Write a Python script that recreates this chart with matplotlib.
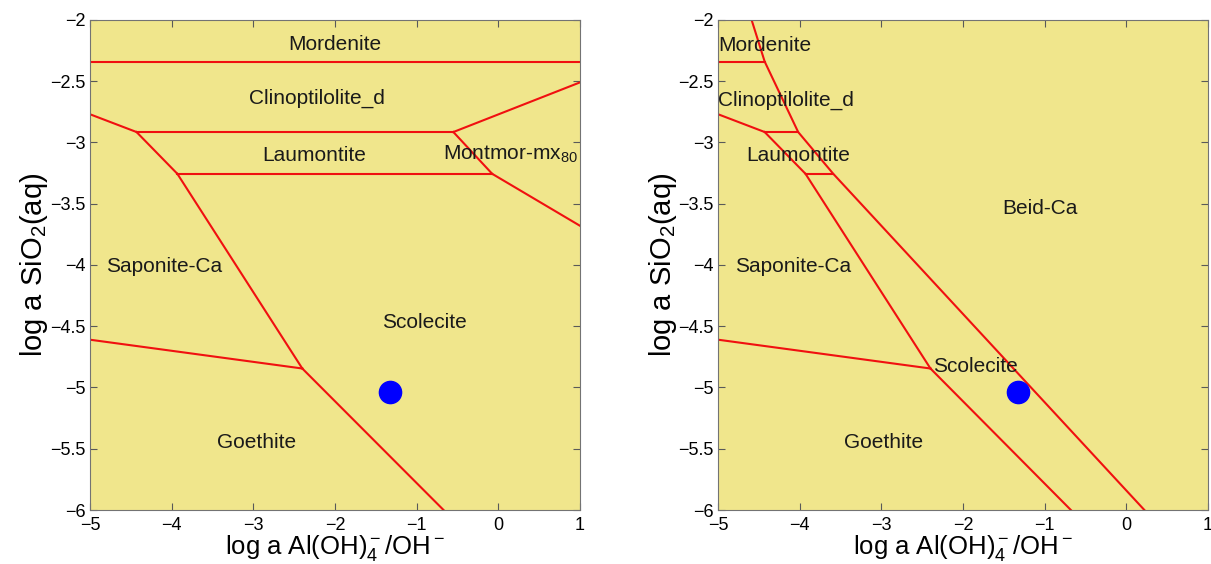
import numpy as np
import matplotlib.pyplot as plt
from matplotlib.ticker import FuncFormatter

plt.rcParams['font.family'] = ['Liberation Sans', 'DejaVu Sans']
plt.rcParams['mathtext.fontset'] = 'custom'
plt.rcParams['mathtext.rm'] = 'Liberation Sans'
plt.rcParams['mathtext.it'] = 'Liberation Sans'
plt.rcParams['mathtext.default'] = 'regular'

# phase boundaries (log a Al(OH)4-/OH-, log a SiO2)
mord_clino_x, mord_clino_y = [-5, 1], [-2.34, -2.34]
sap_clino_x, sap_clino_y = [-5, -4.43], [-2.77, -2.915]
clino_laum_x, clino_laum_y = [-4.43, -0.55], [-2.915, -2.915]
clino_mont_x, clino_mont_y = [-0.55, 1], [-2.915, -2.51]
laum_mont_x, laum_mont_y = [-0.55, -0.075], [-2.915, -3.256]
sap_laum_x, sap_laum_y = [-4.43, -3.93], [-2.915, -3.256]
laum_scol_x, laum_scol_y = [-3.93, -0.075], [-3.256, -3.256]
scol_mont_x, scol_mont_y = [-0.075, 1], [-3.256, -3.68]
sap_scol_x, sap_scol_y = [-3.93, -2.40], [-3.256, -4.845]
sap_goe_x, sap_goe_y = [-5, -2.40], [-4.61, -4.845]
goe_scol_x, goe_scol_y = [-2.40, -0.67], [-4.845, -6]

# second diagram, with beidellite
mord_clino2_x, mord_clino2_y = [-5, -4.43], [-2.34, -2.34]
clino_laum2_x, clino_laum2_y = [-4.43, -4.02], [-2.915, -2.915]
laum_scol2_x, laum_scol2_y = [-3.93, -3.59], [-3.256, -3.256]
beid_x = [-4.59, -4.43, -4.02, -3.59, 0.22]
beid_y = [-2.0, -2.34, -2.915, -3.256, -6.0]
goe_scol2_x, goe_scol2_y = [-2.40, -0.68], [-4.845, -6]

sample_x, sample_y = -1.33, -5.037

left_lines = [(mord_clino_x, mord_clino_y), (sap_clino_x, sap_clino_y),
              (clino_laum_x, clino_laum_y), (clino_mont_x, clino_mont_y),
              (laum_mont_x, laum_mont_y), (sap_laum_x, sap_laum_y),
              (laum_scol_x, laum_scol_y), (scol_mont_x, scol_mont_y),
              (sap_scol_x, sap_scol_y), (sap_goe_x, sap_goe_y),
              (goe_scol_x, goe_scol_y)]
right_lines = [(mord_clino2_x, mord_clino2_y), (sap_clino_x, sap_clino_y),
               (clino_laum2_x, clino_laum2_y), (sap_laum_x, sap_laum_y),
               (laum_scol2_x, laum_scol2_y), (beid_x, beid_y),
               (sap_scol_x, sap_scol_y), (sap_goe_x, sap_goe_y),
               (goe_scol2_x, goe_scol2_y)]

left_labels = [('Mordenite', -2.0, -2.2, 'center'),
               ('Clinoptilolite_d', -2.22, -2.64, 'center'),
               ('Laumontite', -2.26, -3.11, 'center'),
               ('Montmor-mx$_{80}$', -0.68, -3.1, 'left'),
               ('Saponite-Ca', -4.09, -4.01, 'center'),
               ('Scolecite', -0.9, -4.47, 'center'),
               ('Goethite', -2.96, -5.45, 'center')]
right_labels = [('Mordenite', -5.0, -2.21, 'left'),
                ('Clinoptilolite_d', -5.0, -2.66, 'left'),
                ('Laumontite', -4.02, -3.11, 'center'),
                ('Beid-Ca', -1.06, -3.54, 'center'),
                ('Saponite-Ca', -4.08, -4.01, 'center'),
                ('Scolecite', -2.37, -4.83, 'left'),
                ('Goethite', -2.97, -5.45, 'center')]

fig = plt.figure(figsize=(12.11, 5.64), dpi=100)
ax1 = fig.add_axes([0.0743, 0.0957, 0.4046, 0.869])
ax2 = fig.add_axes([0.593, 0.0957, 0.4046, 0.869])

fmt = FuncFormatter(lambda v, p: ('%g' % v).replace('-', '\u2212'))

for ax, lines, labels in [(ax1, left_lines, left_labels), (ax2, right_lines, right_labels)]:
    ax.set_facecolor('#F0E68C')
    for xs, ys in lines:
        ax.plot(xs, ys, color='#F01010', lw=1.5)
    for txt, x, y, ha in labels:
        ax.text(x, y, txt, ha=ha, va='center', fontsize=15, color='#1a1a1a')
    ax.plot(sample_x, sample_y, 'o', color='blue', markersize=16)
    ax.set_xlim(-5, 1)
    ax.set_ylim(-6, -2)
    ax.set_xticks(np.arange(-5, 2, 1))
    ax.set_yticks(np.arange(-6, -1.9, 0.5))
    ax.xaxis.set_major_formatter(fmt)
    ax.yaxis.set_major_formatter(fmt)
    ax.tick_params(direction='in', top=True, right=True, labelsize=13,
                   length=5, color='0.35', pad=3)
    ax.tick_params(axis='x', pad=5)
    for s in ax.spines.values():
        s.set_color('0.45')
        s.set_linewidth(0.8)
    ax.set_xlabel(r'log a Al(OH)$_4^-$/OH$^-$', fontsize=18.5, labelpad=-1)
    ax.set_ylabel(r'log a SiO$_2$(aq)', fontsize=21, labelpad=0)

fig.savefig('out.png', dpi=100)
